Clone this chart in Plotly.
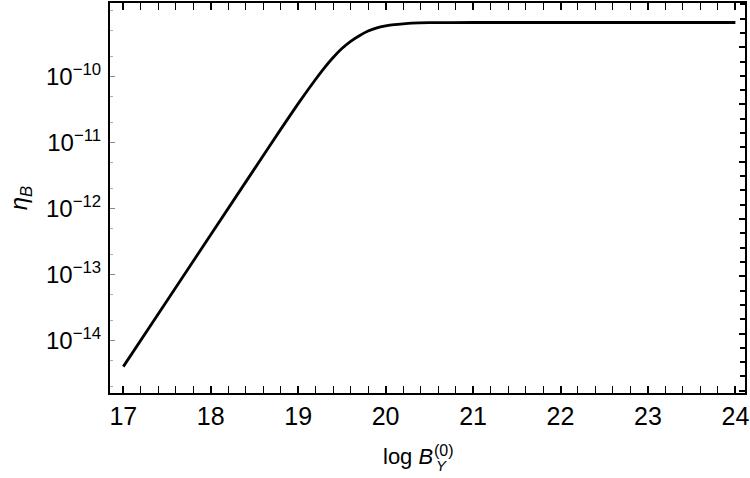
import math
import plotly.graph_objects as go

# ---- data ----
log_B = [17.0, 17.5, 18.0, 18.5, 18.8, 19.0, 19.2, 19.3, 19.4, 19.5, 19.6, 19.7,
         19.8, 19.9, 20.0, 20.1, 20.2, 20.3, 20.5, 21.0, 22.0, 23.0, 24.0]
eta_B = [3.98e-15, 3.98e-14, 3.98e-13, 3.98e-12, 1.58e-11, 3.89e-11, 9.12e-11,
         1.36e-10, 1.95e-10, 2.66e-10, 3.43e-10, 4.17e-10, 4.90e-10, 5.47e-10,
         5.86e-10, 6.14e-10, 6.32e-10, 6.46e-10, 6.56e-10, 6.61e-10, 6.61e-10,
         6.61e-10, 6.61e-10]

x_ticks = [17, 18, 19, 20, 21, 22, 23, 24]
y_ticks = [1e-14, 1e-13, 1e-12, 1e-11, 1e-10]
y_tick_text = ["10<sup>−14</sup>", "10<sup>−13</sup>", "10<sup>−12</sup>",
               "10<sup>−11</sup>", "10<sup>−10</sup>"]

x_range = [16.848, 24.11]
y_log_range = [-14.80, -8.884]

# plot area in pixels
L, R, T, B = 110, 747, 1, 393
W, H = 750, 478

def px(xp):
    return (xp - L) / (R - L)

def py(yp):
    return (B - yp) / (B - T)

FONT = "Liberation Sans, Arial, sans-serif"

fig = go.Figure()
fig.add_trace(go.Scatter(
    x=log_B, y=eta_B, mode="lines",
    line=dict(color="black", width=2.8, shape="spline", smoothing=0.5),
    showlegend=False, hoverinfo="skip"))
# dummy trace for right-hand frame scale
fig.add_trace(go.Scatter(x=[None], y=[None], yaxis="y2", showlegend=False,
                         hoverinfo="skip"))

fig.update_layout(
    width=W, height=H,
    margin=dict(l=L, r=W - R, t=T, b=H - B),
    paper_bgcolor="white", plot_bgcolor="white",
    font=dict(family=FONT, color="black"),
    xaxis=dict(
        range=x_range, tickvals=x_ticks, ticktext=[str(v) for v in x_ticks],
        ticks="inside", ticklen=7, tickwidth=1.5, tickcolor="black",
        minor=dict(ticks="inside", ticklen=3.5, tickwidth=1.2, tickcolor="black",
                   dtick=0.2),
        showline=True, linewidth=2, linecolor="black", mirror="allticks",
        showgrid=False, zeroline=False,
        tickfont=dict(size=25, family=FONT), ticklabelstandoff=0,
        ticklabeloverflow="allow",
    ),
    yaxis=dict(
        type="log", range=y_log_range, tickvals=y_ticks, ticktext=y_tick_text,
        ticks="inside", ticklen=5, tickwidth=1, tickcolor="#888",
        minor=dict(ticks="inside", ticklen=3, tickwidth=0.8, tickcolor="#aaa"),
        showline=True, linewidth=2, linecolor="black", mirror=True,
        showgrid=False, zeroline=False,
        tickfont=dict(size=24, family=FONT), ticklabelstandoff=2,
    ),
    yaxis2=dict(
        overlaying="y", side="right",
        range=[y_log_range[0] * math.log(10), y_log_range[1] * math.log(10)],
        dtick=2, ticks="inside", ticklen=6, tickwidth=1.5, tickcolor="black",
        minor=dict(ticks="inside", ticklen=5, tickwidth=1.5, tickcolor="black",
                   dtick=0.5),
        showticklabels=False, showline=False, showgrid=False, zeroline=False,
    ),
    annotations=[
        dict(text="log <i>B</i>", xref="paper", yref="paper",
             x=px(436), y=py(457), xanchor="right", yanchor="middle",
             showarrow=False, font=dict(size=22, family=FONT)),
        dict(text="<i>Y</i>", xref="paper", yref="paper",
             x=px(435), y=py(466), xanchor="left", yanchor="middle",
             showarrow=False, font=dict(size=15, family=FONT)),
        dict(text="(0)", xref="paper", yref="paper",
             x=px(433), y=py(451), xanchor="left", yanchor="middle",
             showarrow=False, font=dict(size=16, family=FONT)),
        dict(text="<i>η</i><sub><i>B</i></sub>", xref="paper", yref="paper",
             x=px(20), y=py(197), xanchor="center", yanchor="middle",
             textangle=-90, showarrow=False, font=dict(size=24, family=FONT)),
    ],
)

fig.write_html("out.html")
